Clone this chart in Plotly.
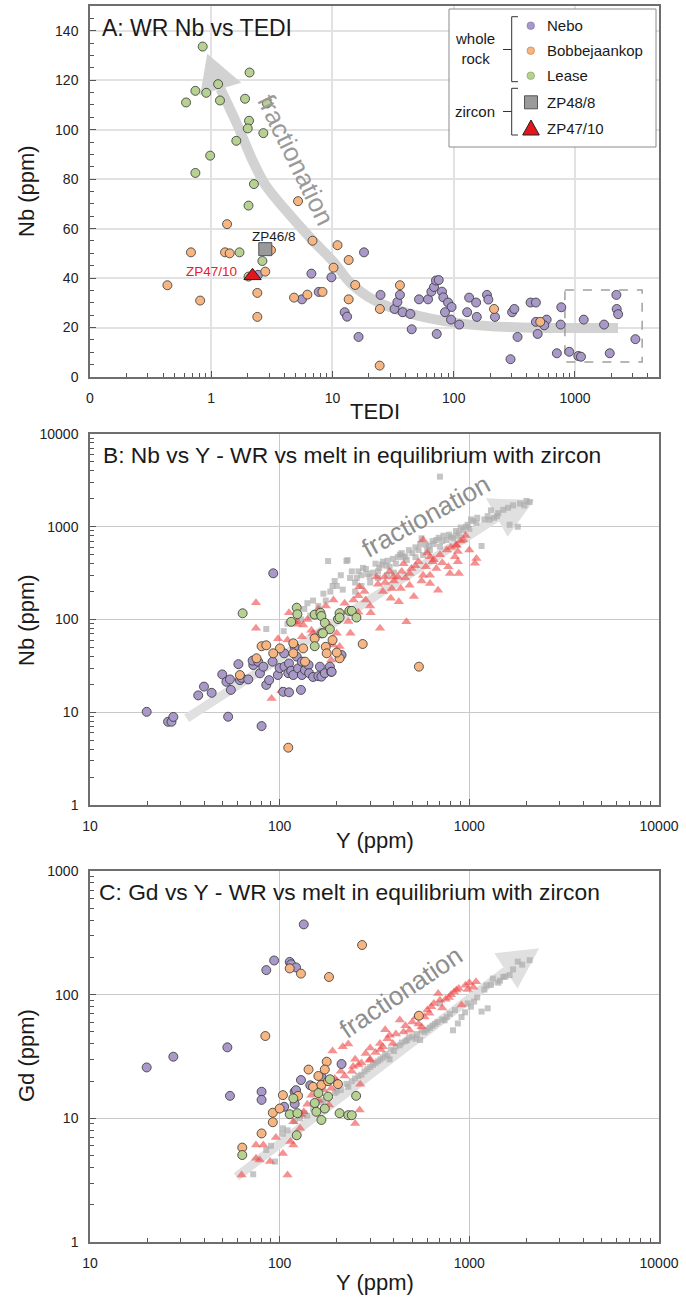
import plotly.graph_objects as go

W, H = 686, 1301
FONT = "Liberation Sans, Arial, Helvetica, sans-serif"

# ================= DATA =================
# Panel A: whole-rock Nb (ppm) vs TEDI   (TEDI, Nb)
nebo_a = [(2.43,41.3),(6.7,41.8),(9.8,40.3),(5.6,31.4),(7.7,34.4),(12.6,26.2),(13.2,24.4),
          (18.2,50.4),(16.4,16.2),(24.9,33.2),(32.5,27.5),(34.3,30.3),(36,33.2),(37.9,26.2),
          (43.9,25.5),(45,19.3),(51.7,31.4),(61.4,31.4),(65.4,34.5),(68.8,36.4),(71.4,39.0),
          (75.2,39.2),(80,34.5),(82,32.2),(89.8,30.1),(96,28.3),(84.7,26.2),(95,23.2),(111,21.2),
          (72.4,17.4),(129,26.2),(134,32.1),(153,30.1),(155,24.3),(188,33.2),(193,31.3),(219,24.3),
          (303,26.2),(316,27.5),(336,16.2),(294,7.2),(430,30.1),(476,30.1),(476,22.3),(584,23.2),
          (558,20.9),(492,17.4),(762,21.2),(771,28.2),(709,9.6),(897,10.2),(1065,8.5),(1121,8.2),
          (1181,23.2),(1738,21.2),(1936,9.6),(2195,33.2),(2208,27.5),(2270,25.4),(3150,15.3)]
bobb_a = [(0.435,37.1),(0.81,30.9),(0.68,50.4),(1.35,61.8),(1.30,50.4),(1.42,50.0),(2.40,34.0),
          (2.40,24.3),(2.79,42.6),(3.11,51.3),(5.2,71.1),(6.84,55.1),(4.82,32.1),(6.21,33.3),
          (8.27,34.4),(10.2,44.2),(11.0,53.3),(13.6,47.3),(13.6,31.4),(15.4,37.2),(24.6,27.5),
          (24.5,4.6),(36,37.1),(215,27.5),(517,22.3)]
lease_a = [(0.85,133.6),(2.07,123.1),(1.14,118.4),(0.74,115.7),(0.91,114.9),(0.62,111.0),
           (1.18,111.8),(1.90,112.5),(2.88,110.6),(2.05,103.6),(2.0,100.5),(2.69,98.6),(1.61,95.5),
           (0.98,89.5),(0.74,82.5),(2.25,78.0),(2.03,69.3),(1.71,50.4),(2.64,46.9),(2.03,40.6)]
zp46_a = [(2.79, 51.7)]
zp47_a = [(2.19, 40.9)]

# Panel B: Nb vs Y   (Y, Nb)
nebo_b = [(19.9,10.1),(25.8,7.9),(26.9,7.9),(27.5,8.9),(37.2,15.2),(39.9,18.9),(43.8,16.2),
          (49.8,25.6),(53.5,8.95),(52.4,21.3),(54.7,22.6),(55.3,17.4),(60.6,33),(61.7,22.2),
          (63,23.5),(68.3,22.6),(80.3,7.1),(72.6,32.3),(72,36),(77,35.1),(78.7,26.3),(82,31),
          (85,19.7),(88,22.2),(91.8,35.1),(97.8,25.2),(100,30),(105.6,43.2),(106,31),(111,26.4),
          (112,33.6),(115,28),(118,25.2),(120,50.8),(123,39.8),(125,29.7),(129.5,17.4),(131,35.1),
          (131,25.2),(136,28.5),(142,32.3),(143,26.4),(150,24),(160,24.5),(163,31),(166,24.2),
          (173,26.4),(184,31),(187,27.3),(188,27.3),(212,41.4),(104.5,16.6),(112,16.4),(92.5,315)]
bobb_b = [(80.3,51.5),(85,52.7),(100.3,48.8),(92.5,43.2),(75.5,38.2),(61.7,25.2),(118,55.4),
          (118,43.2),(133,48.8),(136,35.1),(175,50.8),(177,43.2),(207,38.2),(111,4.15),(274,54.4),
          (542,31),(153,62.6),(166,71),(190,60),(200,44)]
lease_b = [(63.8,116.7),(123,134),(124,114),(115,94.5),(153,113),(164,118),(166,109),(173,92),
           (184,78.5),(203,101),(207,117),(233,124),(169,71),(153,51.5),(207,105),(240,124),(254,105)]
zp48_b = [(85,79),(105,75),(120,95),(135,130),(145,110),(150,160),(160,140),(170,190),(180,427),
          (185,200),(195,260),(200,230),(210,300),(225,427),(228,437),(235,280),(250,250),(260,330),
          (270,300),(285,350),(298,288),(310,320),(320,400),(335,360),(350,420),(365,380),(380,370),
          (395,450),(410,400),(430,500),(450,470),(468,437),(480,560),(500,520),(520,600),(540,560),
          (570,495),(590,640),(610,620),(640,700),(670,720),(700,610),(700,3470),(730,800),(760,720),
          (800,780),(820,750),(850,900),(880,850),(928,920),(960,1000),(1000,950),(1050,1150),
          (1090,1100),(1160,620),(1200,1200),(1280,1190),(1350,1250),(1420,1400),(1510,1520),
          (1630,1050),(1800,1000),(1850,1780),(2080,1850),(1950,1700),(560,750),(400,320),
          (300,250),(250,200),(150,110),(110,90),(130,100),(140,150),(175,160),(190,230),(215,210),
          (240,330),(255,280),(275,360),(290,310),(330,330),(345,390),(370,430),(420,470),(440,520),
          (460,480),(520,470),(550,650),(600,560),(650,650),(690,760),(720,700),(780,820),(860,800),
          (900,980),(980,1050),(1020,1200),(1100,1250),(1250,1300),(1400,1300),(1600,1600),
          (1700,1700),(2000,1900),(1300,1500),(620,560),(370,300),(330,280),(270,230)]
zp47_b = [(75,152),(75,80.5),(90.6,14.1),(102,17.1),(112,118),(123,89),(124,94.5),(131,65),
          (133,87),(147,76.5),(150,71),(173,76.5),(180,90),(187,36.6),(191,53),(192,162),(200,71),
          (207,51),(236,71),(245,162),(263,225),(284,162),(302,118),(324,288),(338,80.5),(357,288),
          (385,169),(390,216),(398,288),(420,288),(425,155),(435,216),(466,94.5),(484,234),(484,313),
          (495,355),(510,177),(570,300),(570,720),(590,370),(620,475),(620,300),(620,245),(670,355),
          (684,207),(775,370),(790,313),(840,475),(850,630),(856,630),(870,540),(870,420),(880,313),
          (955,805),(1070,405),(1090,455),(230,95),(160,130),(140,100),(260,120),(300,140),(110,60),
          (98,62),(165,110),(175,140),(210,120),(220,150),(260,180),(280,200),(330,240),(350,200),
          (360,250),(400,260),(440,330),(460,280),(520,380),(540,420),(560,260),(640,420),(700,500),
          (720,410),(760,560),(800,600),(900,700),(930,720),(1000,560),(600,520),(650,440),(450,400),
          (380,330)]

# Panel C: Gd vs Y   (Y, Gd)
nebo_c = [(19.9,25.8),(27.5,31.5),(53,37.5),(85,158),(93.5,189),(113,184),(115,176),(122,166),
          (134,370),(54.7,15.2),(80.3,16.4),(80.3,14.1),(105.6,12.4),(120,16.4),(120,13.1),
          (129.5,20.4),(122,16.9),(166,21.6),(212,27.5),(145,18.5)]
bobb_c = [(113,163),(129.5,148),(182,139),(84,46.3),(177,28.7),(142,24.8),(173,24.8),(272,252),
          (542,67.6),(104,15.4),(92,11.1),(92,9.3),(80.3,7.55),(63.5,5.8),(150,18),(166,18.6),
          (203,18.9),(125,15.2),(100,12.0),(160,22),(180,20)]
lease_c = [(63.5,5.05),(113,10.8),(124,11.0),(123,7.3),(118,14.5),(153,13.3),(156,11.3),(166,9.7),
           (173,12.0),(180,15.0),(207,11.0),(230,10.6),(253,15.2),(240,10.6),(184,20.7),(160,16)]
zp48_c = [(72.5,3.53),(85,5.55),(94.5,4.47),(104,8.3),(104,7.5),(120,9.5),(135,11),(150,12),
          (165,13.5),(180,15),(195,16),(210,17),(225,19),(240,20),(260,22),(280,24),(300,26),
          (320,28),(340,30),(360,33),(385,36),(410,38),(440,41),(470,43),(500,46),(520,44),(550,43),
          (560,51.5),(600,52),(640,56),(680,60),(720,63),(760,66),(820,51.5),(870,58.5),(910,66),
          (950,72),(1020,80),(1060,88),(1160,73),(1230,119),(1250,77.6),(1330,135),(1420,125),
          (1510,139),(1630,144),(1800,185),(2080,190),(700,85),(380,30),(90,6),(110,8),(128,10),
          (140,10.5),(155,13),(170,14),(200,16.5),(230,18),(250,21),(270,22.5),(290,25),(310,27),
          (330,29),(350,31),(370,32),(400,35),(430,39),(460,42),(480,45),(530,48),(580,50),(620,54),
          (660,58),(740,62),(790,70),(840,75),(980,85),(1100,95),(1200,110),(1300,120),(1450,130),
          (1550,140),(1700,160),(1900,175)]
zp47_c = [(63,3.48),(75,6.1),(75,4.75),(82,6.1),(78.5,4.6),(89,4.47),(95.5,7.0),(104,5.2),
          (110,3.48),(114,6.5),(118,6.1),(118,9.4),(128,8.3),(130,10.6),(134,11.3),(147,15.4),
          (161,15.9),(182,12.8),(187,17.5),(264,11.7),(250,9.1),(266,18.9),(244,26.2),(284,33.5),
          (298,29.5),(338,40.3),(380,47),(395,40.3),(430,62.4),(484,51.5),(525,66),(615,70.6),
          (685,102),(855,109),(910,82.5),(955,119),(1085,127),(200,20),(220,22),(160,14),(300,30),
          (350,38),(450,50),(560,55),(650,85),(750,92),(800,100),(190,35),(215,38),(230,40),(250,30),
          (140,13),(170,17),(195,21),(210,24),(240,24),(270,28),(320,34),(340,36),(370,44),(410,48),
          (460,56),(500,60),(540,58),(580,66),(600,75),(630,80),(700,90),(720,78),(780,95),(830,105),
          (880,112),(980,110),(1000,125),(1050,115),(360,52),(300,37),(260,27)]

# Fractionation arrows (annotation paths, data coordinates)
arrow_a_shaft = [(2265,19.8),(279,20.2),(108,21.8),(41.7,25.9),(21.8,31.2),(14.1,38),(10.2,46.5),
                 (6.58,56.2),(4.09,67.6),(2.79,77.7),(2.18,87.8),(1.64,102),(1.19,116.5)]
arrow_a_head = [(0.927,130.7),(0.811,114.1),(1.77,119.0)]
arrow_b_shaft = [(32.3,8.6),(1396,1259)]
arrow_b_head = [(2198,1942),(1225,2027),(1592,781)]
arrow_c_shaft = [(59.2,3.37),(1560,156)]
arrow_c_head = [(2334,237),(1355,216),(1795,112)]
box_a = [(826,35.2),(3580,35.2),(3580,6.1),(826,6.1),(826,35.2)]

# ================= STYLE =================
C_NEBO, C_BOBB, C_LEASE = "#a899c9", "#f7b581", "#b7d192"
C_SQ, C_TRI = "rgba(172,172,172,0.7)", "rgba(238,72,72,0.6)"


def px(x):
    return x / W


def py(y):
    return 1 - y / H


def xs(pts):
    return [p[0] for p in pts]


def ys(pts):
    return [p[1] for p in pts]


fig = go.Figure()


def wr(pts, color, ax):
    fig.add_trace(go.Scatter(x=xs(pts), y=ys(pts), mode="markers", xaxis=ax[0], yaxis=ax[1],
                             showlegend=False, hoverinfo="skip",
                             marker=dict(size=9, color=color, line=dict(color="#333", width=0.8))))


def arrow(shaft, head, color, width, ax, spline=False):
    fig.add_trace(go.Scatter(x=xs(shaft), y=ys(shaft), mode="lines", xaxis=ax[0], yaxis=ax[1],
                             showlegend=False, hoverinfo="skip",
                             line=dict(color=color, width=width, shape="spline" if spline else "linear")))
    fig.add_trace(go.Scatter(x=xs(head) + [head[0][0]], y=ys(head) + [head[0][1]], mode="lines",
                             fill="toself", fillcolor=color, xaxis=ax[0], yaxis=ax[1],
                             showlegend=False, hoverinfo="skip", line=dict(width=0, color=color)))


# Panel A
AX_A, AX_B, AX_C = ("x", "y"), ("x2", "y2"), ("x3", "y3")
arrow(arrow_a_shaft, arrow_a_head, "#d2d2d2", 10, AX_A, spline=True)
fig.add_trace(go.Scatter(x=xs(box_a), y=ys(box_a), mode="lines", xaxis="x", yaxis="y", showlegend=False,
                         hoverinfo="skip", line=dict(color="#a0a0a0", width=1.5, dash="dash")))
wr(nebo_a, C_NEBO, AX_A)
wr(bobb_a, C_BOBB, AX_A)
wr(lease_a, C_LEASE, AX_A)
fig.add_trace(go.Scatter(x=xs(zp46_a), y=ys(zp46_a), mode="markers", showlegend=False, hoverinfo="skip",
                         marker=dict(symbol="square", size=13, color="#9a9a9a", line=dict(color="#555", width=1))))
fig.add_trace(go.Scatter(x=xs(zp47_a), y=ys(zp47_a), mode="markers", showlegend=False, hoverinfo="skip",
                         marker=dict(symbol="triangle-up", size=15, color="#e3161e", line=dict(color="#222", width=1))))

# Panels B and C
for ax, sq, tri, ne, bo, le, sh, hd in [
        (AX_B, zp48_b, zp47_b, nebo_b, bobb_b, lease_b, arrow_b_shaft, arrow_b_head),
        (AX_C, zp48_c, zp47_c, nebo_c, bobb_c, lease_c, arrow_c_shaft, arrow_c_head)]:
    arrow(sh, hd, "#e0e0e0", 9, ax)
    fig.add_trace(go.Scatter(x=xs(sq), y=ys(sq), mode="markers", xaxis=ax[0], yaxis=ax[1], showlegend=False,
                             hoverinfo="skip", marker=dict(symbol="square", size=6, color=C_SQ)))
    fig.add_trace(go.Scatter(x=xs(tri), y=ys(tri), mode="markers", xaxis=ax[0], yaxis=ax[1], showlegend=False,
                             hoverinfo="skip", marker=dict(symbol="triangle-up", size=9, color=C_TRI)))
    wr(ne, C_NEBO, ax)
    wr(bo, C_BOBB, ax)
    wr(le, C_LEASE, ax)

# ================= AXES =================
XDOM = [px(90), px(659)]
TICKFONT = dict(family=FONT, size=14, color="#222")


def logminor(e0, e1):
    return [k * 10 ** e for e in range(e0, e1) for k in range(2, 10)]


def axis_common(**kw):
    d = dict(showline=True, linecolor="#6e6e6e", linewidth=1.5, mirror=True, ticks="inside",
             ticklen=6, tickcolor="#555", tickwidth=1, zeroline=False, automargin=False,
             tickfont=TICKFONT, ticklabelstandoff=7, showgrid=True)
    d.update(kw)
    return d


fig.update_layout(
    xaxis=axis_common(type="log", range=[-1, 3.693], domain=XDOM, anchor="y",
                      tickmode="array", tickvals=[0.1, 1, 10, 100, 1000],
                      ticktext=["0", "1", "10", "100", "1000"], gridcolor="#e2e2e2", gridwidth=2,
                      minor=dict(tickmode="array", tickvals=logminor(-1, 4), ticks="inside", ticklen=4,
                                 tickcolor="#555", showgrid=False)),
    yaxis=axis_common(range=[0, 150], domain=[py(377), py(6)], anchor="x", tickmode="linear",
                      tick0=0, dtick=20, gridcolor="#e2e2e2", gridwidth=2,
                      minor=dict(dtick=5, ticks="inside", ticklen=4, tickcolor="#555", showgrid=False)),
    xaxis2=axis_common(type="log", range=[1, 4], domain=XDOM, anchor="y2", tickmode="array",
                       tickvals=[10, 100, 1000, 10000], ticktext=["10", "100", "1000", "10000"],
                       gridcolor="#c9c9c9", gridwidth=1,
                       minor=dict(tickmode="array", tickvals=logminor(1, 4), ticks="inside", ticklen=4,
                                  tickcolor="#555", showgrid=False)),
    yaxis2=axis_common(type="log", range=[0, 4], domain=[py(805), py(434)], anchor="x2", tickmode="array",
                       tickvals=[1, 10, 100, 1000, 10000], ticktext=["1", "10", "100", "1000", "10000"],
                       gridcolor="#c9c9c9", gridwidth=1,
                       minor=dict(tickmode="array", tickvals=logminor(0, 4), ticks="inside", ticklen=4,
                                  tickcolor="#555", showgrid=False)),
    xaxis3=axis_common(type="log", range=[1, 4], domain=XDOM, anchor="y3", tickmode="array",
                       tickvals=[10, 100, 1000, 10000], ticktext=["10", "100", "1000", "10000"],
                       gridcolor="#c9c9c9", gridwidth=1,
                       minor=dict(tickmode="array", tickvals=logminor(1, 4), ticks="inside", ticklen=4,
                                  tickcolor="#555", showgrid=False)),
    yaxis3=axis_common(type="log", range=[0, 3], domain=[py(1242), py(871)], anchor="x3", tickmode="array",
                       tickvals=[1, 10, 100, 1000], ticktext=["1", "10", "100", "1000"],
                       gridcolor="#c9c9c9", gridwidth=1,
                       minor=dict(tickmode="array", tickvals=logminor(0, 3), ticks="inside", ticklen=4,
                                  tickcolor="#555", showgrid=False)),
)

# ================= TEXT =================
ann = []


def text(x, y, s, size, color="#1a1a1a", xanchor="center", angle=0):
    ann.append(dict(x=px(x), y=py(y), xref="paper", yref="paper", text=s, showarrow=False,
                    xanchor=xanchor, yanchor="middle", textangle=angle,
                    font=dict(family=FONT, size=size, color=color)))


text(100, 28, "A: WR Nb vs TEDI", 23, xanchor="left")
text(101, 455, "B: Nb vs Y - WR vs melt in equilibrium with zircon", 22.8, xanchor="left")
text(97, 892, "C: Gd vs Y - WR vs melt in equilibrium with zircon", 22.8, xanchor="left")
text(26, 191, "Nb (ppm)", 22, angle=-90)
text(26, 620, "Nb (ppm)", 22, angle=-90)
text(26, 1056, "Gd (ppm)", 22, angle=-90)
text(375, 412, "TEDI", 22)
text(375, 840, "Y (ppm)", 22)
text(375, 1282, "Y (ppm)", 22)
text(296, 160, "fractionation", 26, color="#9a9a9a", angle=64)
text(426, 516, "fractionation", 26, color="#8e8e8e", angle=-29)
text(401, 992, "fractionation", 26, color="#8e8e8e", angle=-34)
text(273.5, 236, "ZP46/8", 13.5)
text(239, 271, "ZP47/10", 13.5, color="#e8202a", xanchor="right")

# legend text
text(475, 49, "whole<br>rock", 15)
text(475, 111, "zircon", 15)
for yy, lab in [(25.7, "Nebo"), (50.7, "Bobbejaankop"), (75.7, "Lease"), (102.3, "ZP48/8"), (128.3, "ZP47/10")]:
    text(545, yy, lab, 15, xanchor="left")

# legend shapes
shapes = []


def pathpx(pts):
    return "M " + " L ".join(f"{px(a):.5f},{py(b):.5f}" for a, b in pts)


shapes.append(dict(type="rect", xref="paper", yref="paper", x0=px(449), x1=px(656), y0=py(147), y1=py(9),
                   fillcolor="white", line=dict(color="#8a8a8a", width=1), layer="above"))
for top, bot, mid in [(16.7, 81.7, 49.5), (88.3, 135, 111.5)]:
    shapes.append(dict(type="path", xref="paper", yref="paper", layer="above",
                       path=pathpx([(518, top), (511.7, top), (511.7, bot), (518, bot)]),
                       line=dict(color="#333", width=1)))
    shapes.append(dict(type="path", xref="paper", yref="paper", layer="above",
                       path=pathpx([(503, mid), (511.7, mid)]), line=dict(color="#333", width=1)))
for yy, col, edge in [(25.7, C_NEBO, "#8a7bb0"), (50.7, C_BOBB, "#c98a55"), (75.7, C_LEASE, "#8aa866")]:
    shapes.append(dict(type="circle", xref="paper", yref="paper", layer="above",
                       x0=px(527), x1=px(534.5), y0=py(yy + 3.75), y1=py(yy - 3.75),
                       fillcolor=col, line=dict(color=edge, width=0.8)))
shapes.append(dict(type="rect", xref="paper", yref="paper", layer="above",
                   x0=px(524.5), x1=px(537.5), y0=py(108.8), y1=py(95.8),
                   fillcolor="#9a9a9a", line=dict(color="#555", width=1)))
shapes.append(dict(type="path", xref="paper", yref="paper", layer="above",
                   path=pathpx([(531, 120), (539.3, 135), (522.7, 135)]) + " Z",
                   fillcolor="#e3161e", line=dict(color="#222", width=1)))

fig.update_layout(width=W, height=H, margin=dict(l=0, r=0, t=0, b=0),
                  paper_bgcolor="white", plot_bgcolor="white", showlegend=False,
                  annotations=ann, shapes=shapes, font=dict(family=FONT))

fig.write_html("out.html", config={"displayModeBar": False},
               post_script="document.body.style.margin='0';document.body.style.overflow='hidden';")
